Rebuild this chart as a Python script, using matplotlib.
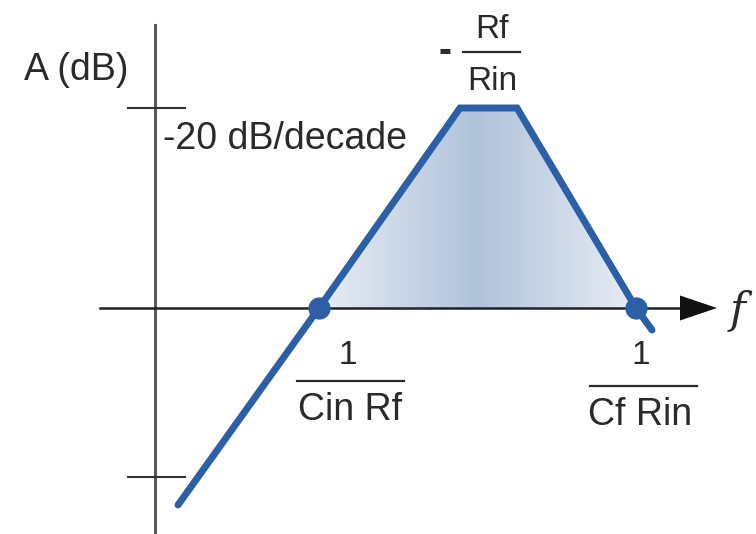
import matplotlib
matplotlib.use("Agg")
import matplotlib.pyplot as plt
import numpy as np
from matplotlib.colors import LinearSegmentedColormap

# ===== Asymptotic Bode magnitude (log-frequency units, gain in dB) =====
freq = [2.3, 16.4, 30.5, 36.2, 48.1, 49.7]
gain = [-19.7, 0.0, 20.0, 20.0, 0.0, -2.2]

# corner frequencies (where the curve crosses 0 dB)
corner_f = [16.4, 48.1]
corner_g = [0.0, 0.0]

# y-axis ticks (dB)
tick_db = [20.0, -16.9]

# ===== Styling =====
blue = "#2b5fa6"
text_col = "#2a2a2a"
font_name = "Liberation Sans"

fig = plt.figure(figsize=(7.56, 5.34), dpi=100)
ax = fig.add_axes([0, 0, 1, 1])
ax.set_xlim(-15.5, 60.1)
ax.set_ylim(-22.6, 30.8)
ax.axis("off")

# ===== Gradient fill under the passband =====
poly, = ax.fill(freq[1:5], gain[1:5], color="none", lw=0)
cmap = LinearSegmentedColormap.from_list(
    "band", [(0.0, "#e8edf5"), (0.5, "#b0c2da"), (1.0, "#e8edf5")])
grad = np.linspace(0, 1, 256).reshape(1, -1)
img = ax.imshow(grad, cmap=cmap, aspect="auto", interpolation="bicubic",
                extent=(freq[1], freq[4], 0, 20), zorder=1)
img.set_clip_path(poly)

# ===== Axes (drawn as lines) =====
ax.plot([0, 0], [-22.5, 28.3], color="#5a5a5a", lw=2.2, zorder=2)
ax.plot([-5.5, 53.5], [0, 0], color="#222222", lw=1.8, zorder=2)
ax.fill([52.5, 56.2, 52.5], [1.25, 0, -1.25], color="#111111", lw=0, zorder=2)
for t in tick_db:
    ax.plot([-2.7, 3.0], [t, t], color="#333333", lw=1.5, zorder=2)

# ===== Response curve =====
ax.plot(freq, gain, color=blue, lw=5, solid_capstyle="round",
        solid_joinstyle="miter", zorder=3)
ax.plot(corner_f, corner_g, "o", color=blue, ms=15, zorder=4)

# ===== Labels =====
kw = dict(color=text_col, fontname=font_name)
ax.text(-7.9, 23.8, "A (dB)", fontsize=27, ha="center", va="center", **kw)
ax.text(0.8, 16.9, "-20 dB/decade", fontsize=27, ha="left", va="center", **kw)
ax.text(58.3, -0.3, "f", fontsize=31, style="italic",
        fontname="DejaVu Serif", ha="center", va="center", color=text_col)

# passband gain  -Rf/Rin
ax.text(29.0, 25.6, "-", fontsize=28, fontweight="bold", ha="center", va="center", **kw)
ax.plot([30.8, 36.5], [25.6, 25.6], color=text_col, lw=1.6)
ax.text(33.7, 27.9, "Rf", fontsize=24, ha="center", va="center", **kw)
ax.text(33.7, 22.7, "Rin", fontsize=24, ha="center", va="center", **kw)

# lower corner  1/(Cin Rf)
ax.text(19.3, -4.7, "1", fontsize=24, ha="center", va="center", **kw)
ax.plot([14.2, 24.9], [-7.3, -7.3], color=text_col, lw=1.6)
ax.text(19.5, -10.2, "Cin Rf", fontsize=27, ha="center", va="center", **kw)

# upper corner  1/(Cf Rin)
ax.text(48.6, -4.7, "1", fontsize=24, ha="center", va="center", **kw)
ax.plot([43.5, 54.2], [-7.8, -7.8], color=text_col, lw=1.6)
ax.text(48.5, -10.7, "Cf Rin", fontsize=27, ha="center", va="center", **kw)

plt.savefig("out.png", dpi=100)
